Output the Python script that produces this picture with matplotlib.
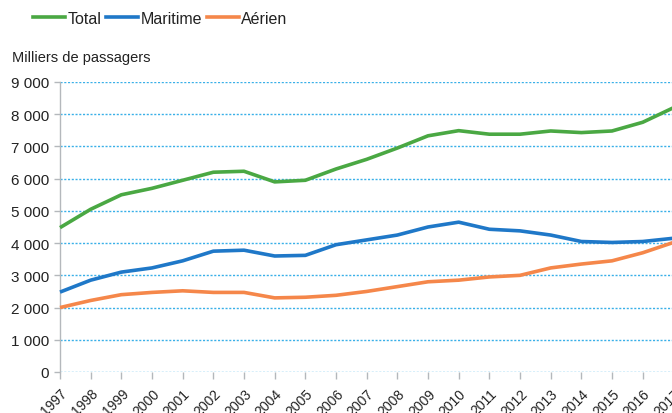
import matplotlib.pyplot as plt
from matplotlib.lines import Line2D

plt.rcParams['font.family'] = ['Liberation Sans', 'DejaVu Sans']

years = list(range(1997, 2018))
total = [4480, 5050, 5500, 5700, 5950, 6200, 6230, 5900, 5950, 6300, 6600,
         6950, 7330, 7490, 7380, 7380, 7480, 7430, 7480, 7750, 8200]
maritime = [2480, 2850, 3100, 3230, 3450, 3750, 3780, 3600, 3620, 3950, 4100,
            4250, 4500, 4650, 4430, 4380, 4250, 4050, 4020, 4050, 4150]
aerien = [2000, 2220, 2400, 2470, 2520, 2470, 2470, 2300, 2320, 2380, 2500,
          2650, 2800, 2850, 2950, 3000, 3230, 3350, 3450, 3700, 4020]
y_ticks = list(range(0, 9001, 1000))
y_labels = ['0' if v == 0 else '{} {:03d}'.format(v // 1000, v % 1000) for v in y_ticks]

c_total = '#4aa843'
c_mar = '#1f78c8'
c_aer = '#f5874a'
grid_c = '#3ab0e8'
axis_c = '#b4b8bc'

fig = plt.figure(figsize=(6.72, 4.14), dpi=100)
ax = fig.add_axes([60 / 672, 1 - 373 / 414, 1 - 60 / 672 + 0.002, (373 - 83) / 414])

ax.plot(years, total, color=c_total, lw=2.6, solid_capstyle='butt', clip_on=False, zorder=3)
ax.plot(years, maritime, color=c_mar, lw=2.6, solid_capstyle='butt', clip_on=False, zorder=3)
ax.plot(years, aerien, color=c_aer, lw=2.6, solid_capstyle='butt', clip_on=False, zorder=3)

ax.set_xlim(1997, 2017)
ax.set_ylim(0, 9000)
ax.set_yticks(y_ticks)
ax.set_yticklabels(y_labels, fontsize=11, color='#222222')
ax.set_xticks(years)
ax.set_xticklabels([str(y) for y in years], fontsize=10, color='#222222',
                   rotation=45, ha='right', rotation_mode='anchor')
ax.tick_params(axis='both', color=axis_c, length=4, width=1)
ax.tick_params(axis='x', pad=5, length=5)
ax.tick_params(axis='y', pad=4)

for v in y_ticks:
    ax.axhline(v, color=grid_c, lw=1, ls=(0, (1.5, 1.2)), zorder=1)

for s in ['top', 'right', 'bottom']:
    ax.spines[s].set_visible(False)
ax.spines['left'].set_color(axis_c)
ax.spines['left'].set_linewidth(1)

fig.text(12 / 672, 1 - 62 / 414, 'Milliers de passagers', fontsize=10.5, color='#222222')

handles = [Line2D([], [], color=c_total, lw=2.6),
           Line2D([], [], color=c_mar, lw=2.6),
           Line2D([], [], color=c_aer, lw=2.6)]
fig.legend(handles, ['Total', 'Maritime', 'Aérien'], loc='center left',
           bbox_to_anchor=(33 / 672, 1 - 19 / 414), ncol=3, frameon=False,
           fontsize=11.5, handlelength=2.0, handletextpad=0.15, columnspacing=0.3,
           labelcolor='#222222', borderaxespad=0, borderpad=0)

fig.savefig('out.png', dpi=100)
